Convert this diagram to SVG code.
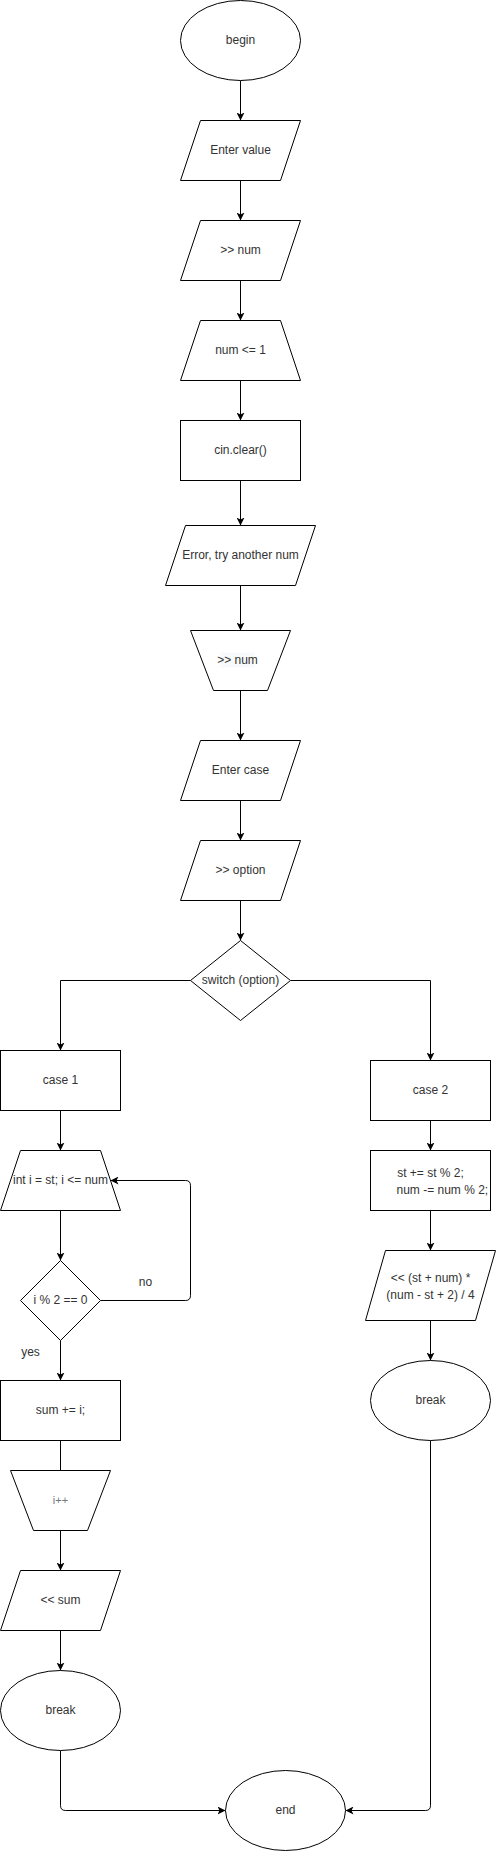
<svg xmlns="http://www.w3.org/2000/svg" width="496" height="1851" viewBox="0 0 496 1851">
<style>
.s{fill:#fff;stroke:#000;stroke-width:1}
.e{fill:none;stroke:#000;stroke-width:1}
text{font-family:"Liberation Sans",Arial,Helvetica,sans-serif;font-size:12px;fill:#333;text-anchor:middle}
</style>
<defs>
<marker id="a" viewBox="0 0 8 8" markerWidth="8" markerHeight="8" refX="8" refY="4" orient="auto" markerUnits="userSpaceOnUse">
<path d="M0,0 L8,4 L0,8 L2,4 Z" fill="#000"/>
</marker>
</defs>
<g transform="translate(0.5,0.5)">
<g id="edges">
<path class="e" d="M240,80 V120" marker-end="url(#a)"/>
<path class="e" d="M240,180 V220" marker-end="url(#a)"/>
<path class="e" d="M240,280 V320" marker-end="url(#a)"/>
<path class="e" d="M240,380 V420" marker-end="url(#a)"/>
<path class="e" d="M240,480 V525" marker-end="url(#a)"/>
<path class="e" d="M240,585 V630" marker-end="url(#a)"/>
<path class="e" d="M240,690 V740" marker-end="url(#a)"/>
<path class="e" d="M240,800 V840" marker-end="url(#a)"/>
<path class="e" d="M240,900 V940" marker-end="url(#a)"/>
<path class="e" d="M190,980 H60 V1050" marker-end="url(#a)"/>
<path class="e" d="M290,980 H430 V1060" marker-end="url(#a)"/>
<path class="e" d="M60,1110 V1150" marker-end="url(#a)"/>
<path class="e" d="M60,1210 V1260" marker-end="url(#a)"/>
<path class="e" d="M100,1300 H185 Q190,1300 190,1295 V1185 Q190,1180 185,1180 H110" marker-end="url(#a)"/>
<path class="e" d="M60,1340 V1380" marker-end="url(#a)"/>
<path class="e" d="M60,1440 V1470"/>
<path class="e" d="M60,1530 V1570" marker-end="url(#a)"/>
<path class="e" d="M60,1630 V1670" marker-end="url(#a)"/>
<path class="e" d="M60,1750 V1805 Q60,1810 65,1810 H225" marker-end="url(#a)"/>
<path class="e" d="M430,1120 V1150" marker-end="url(#a)"/>
<path class="e" d="M430,1210 V1250" marker-end="url(#a)"/>
<path class="e" d="M430,1320 V1360" marker-end="url(#a)"/>
<path class="e" d="M430,1440 V1805 Q430,1810 425,1810 H345" marker-end="url(#a)"/>
<text x="145" y="1285">no</text>
<text x="30" y="1355">yes</text>
</g>
<g id="begin"><ellipse class="s" cx="240" cy="40" rx="60" ry="40"/><text x="240" y="43">begin</text></g>
<g id="enter-value"><path class="s" d="M200,120 H300 L280,180 H180 Z"/><text x="240" y="153">Enter value</text></g>
<g id="input-num"><path class="s" d="M200,220 H300 L280,280 H180 Z"/><text x="240" y="253">&gt;&gt; num</text></g>
<g id="check-num"><path class="s" d="M200,320 H280 L300,380 H180 Z"/><text x="240" y="353">num &lt;= 1</text></g>
<g id="cin-clear"><rect class="s" x="180" y="420" width="120" height="60"/><text x="240" y="453">cin.clear()</text></g>
<g id="error"><path class="s" d="M185,525 H315 L295,585 H165 Z"/><text x="240" y="558">Error, try another num</text></g>
<g id="input-num-2"><path class="s" d="M190,630 H290 L267,690 H213 Z"/><rect x="220" y="652" width="34" height="15" fill="#f8f9fa"/><text x="237" y="663">&gt;&gt; num</text></g>
<g id="enter-case"><path class="s" d="M200,740 H300 L280,800 H180 Z"/><text x="240" y="773">Enter case</text></g>
<g id="input-option"><path class="s" d="M200,840 H300 L280,900 H180 Z"/><text x="240" y="873">&gt;&gt; option</text></g>
<g id="switch"><path class="s" d="M240,940 L290,980 L240,1020 L190,980 Z"/><text x="240" y="983">switch (option)</text></g>
<g id="case1"><rect class="s" x="0" y="1050" width="120" height="60"/><text x="60" y="1083">case 1</text></g>
<g id="for-loop"><path class="s" d="M20,1150 H100 L120,1210 H0 Z"/><text x="60" y="1183">int i = st; i &lt;= num</text></g>
<g id="cond"><path class="s" d="M60,1260 L100,1300 L60,1340 L20,1300 Z"/><text x="60" y="1303">i % 2 == 0</text></g>
<g id="sum"><rect class="s" x="0" y="1380" width="120" height="60"/><text x="60" y="1413">sum += i;</text></g>
<g id="inc"><path class="s" d="M10,1470 H110 L87,1530 H33 Z"/><text x="60" y="1503" style="fill:#777;font-size:11px">i++</text></g>
<g id="out-sum"><path class="s" d="M20,1570 H120 L100,1630 H0 Z"/><text x="60" y="1603">&lt;&lt; sum</text></g>
<g id="break1"><ellipse class="s" cx="60" cy="1710" rx="60" ry="40"/><text x="60" y="1713">break</text></g>
<g id="case2"><rect class="s" x="370" y="1060" width="120" height="60"/><text x="430" y="1093">case 2</text></g>
<g id="st-calc"><rect class="s" x="370" y="1150" width="120" height="60"/><text x="430" y="1176">st += st % 2;</text><text x="396" y="1193" style="text-anchor:start">num -= num % 2;</text></g>
<g id="out-calc"><path class="s" d="M385,1250 H495 L475,1320 H365 Z"/><text x="430" y="1281">&lt;&lt; (st + num) *</text><text x="430" y="1298">(num - st + 2) / 4</text></g>
<g id="break2"><ellipse class="s" cx="430" cy="1400" rx="60" ry="40"/><text x="430" y="1403">break</text></g>
<g id="end"><ellipse class="s" cx="285" cy="1810" rx="60" ry="40"/><text x="285" y="1813">end</text></g>
</g>
</svg>
